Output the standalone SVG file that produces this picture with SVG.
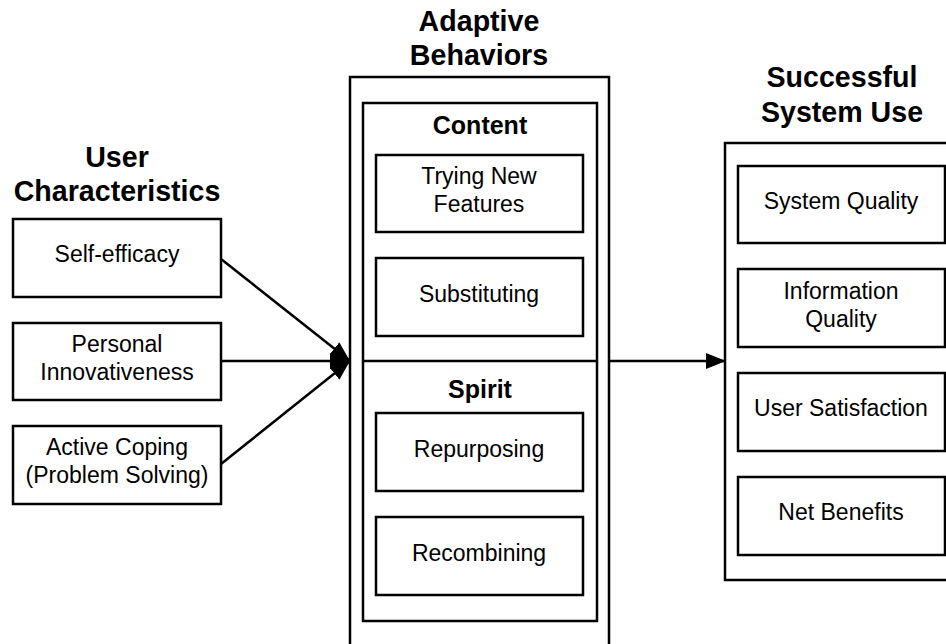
<svg xmlns="http://www.w3.org/2000/svg" width="946" height="644" viewBox="0 0 946 644">
<style>
.box{fill:#fff;stroke:#000;stroke-width:2.5}
.frame{fill:none;stroke:#000;stroke-width:2.5}
.t{font-family:"Liberation Sans",Arial,sans-serif;font-size:23px;text-anchor:middle;fill:#000}
.h{font-family:"Liberation Sans",Arial,sans-serif;font-size:28.6px;font-weight:bold;text-anchor:middle;fill:#000}
.s{font-family:"Liberation Sans",Arial,sans-serif;font-size:25px;font-weight:bold;text-anchor:middle;fill:#000}
.c{fill:none;stroke:#000;stroke-width:2.5}
</style>
<defs>
<marker id="arr" markerUnits="userSpaceOnUse" markerWidth="22" markerHeight="18" refX="20" refY="8" orient="auto" viewBox="0 0 22 16">
<path d="M0,0 L20,8 L0,16 z" fill="#000"/>
</marker>
</defs>
<rect width="946" height="644" fill="#fff"/>

<g id="user-characteristics">
<text class="h" x="117" y="167">User</text>
<text class="h" x="117" y="201">Characteristics</text>
</g>
<g id="self-efficacy">
<rect class="box" x="13" y="219" width="208" height="78"/>
<text class="t" x="117" y="262">Self-efficacy</text>
</g>
<g id="personal-innovativeness">
<rect class="box" x="13" y="323" width="208" height="77"/>
<text class="t" x="117" y="352">Personal</text>
<text class="t" x="117" y="380">Innovativeness</text>
</g>
<g id="active-coping">
<rect class="box" x="13" y="426" width="208" height="78"/>
<text class="t" x="117" y="455">Active Coping</text>
<text class="t" x="117" y="483">(Problem Solving)</text>
</g>

<g id="adaptive-behaviors">
<text class="h" x="479" y="31">Adaptive</text>
<text class="h" x="479" y="65">Behaviors</text>
<rect class="frame" x="350" y="77" width="259" height="600"/>
<rect class="frame" x="363" y="103" width="234" height="518"/>
<line class="c" x1="363" y1="361" x2="597" y2="361"/>
</g>
<g id="content">
<text class="s" x="480" y="134">Content</text>
</g>
<g id="trying-new-features">
<rect class="box" x="376" y="155" width="207" height="77"/>
<text class="t" x="479" y="184">Trying New</text>
<text class="t" x="479" y="212">Features</text>
</g>
<g id="substituting">
<rect class="box" x="376" y="258" width="207" height="78"/>
<text class="t" x="479" y="302">Substituting</text>
</g>
<g id="spirit">
<text class="s" x="480" y="398">Spirit</text>
</g>
<g id="repurposing">
<rect class="box" x="376" y="413" width="207" height="78"/>
<text class="t" x="479" y="457">Repurposing</text>
</g>
<g id="recombining">
<rect class="box" x="376" y="517" width="207" height="78"/>
<text class="t" x="479" y="561">Recombining</text>
</g>

<g id="successful-system-use">
<text class="h" x="842" y="87">Successful</text>
<text class="h" x="842" y="122">System Use</text>
<rect class="frame" x="725" y="143" width="240" height="437"/>
</g>
<g id="system-quality">
<rect class="box" x="738" y="166" width="207" height="77"/>
<text class="t" x="841" y="209">System Quality</text>
</g>
<g id="information-quality">
<rect class="box" x="738" y="269" width="207" height="78"/>
<text class="t" x="841" y="299">Information</text>
<text class="t" x="841" y="327">Quality</text>
</g>
<g id="user-satisfaction">
<rect class="box" x="738" y="373" width="207" height="78"/>
<text class="t" x="841" y="416">User Satisfaction</text>
</g>
<g id="net-benefits">
<rect class="box" x="738" y="477" width="207" height="78"/>
<text class="t" x="841" y="520">Net Benefits</text>
</g>

<g id="connectors">
<line class="c" x1="221" y1="259" x2="350" y2="361" marker-end="url(#arr)"/>
<line class="c" x1="221" y1="361" x2="350" y2="361" marker-end="url(#arr)"/>
<line class="c" x1="221" y1="464" x2="350" y2="361" marker-end="url(#arr)"/>
<line class="c" x1="609" y1="361" x2="726" y2="361" marker-end="url(#arr)"/>
</g>
</svg>
